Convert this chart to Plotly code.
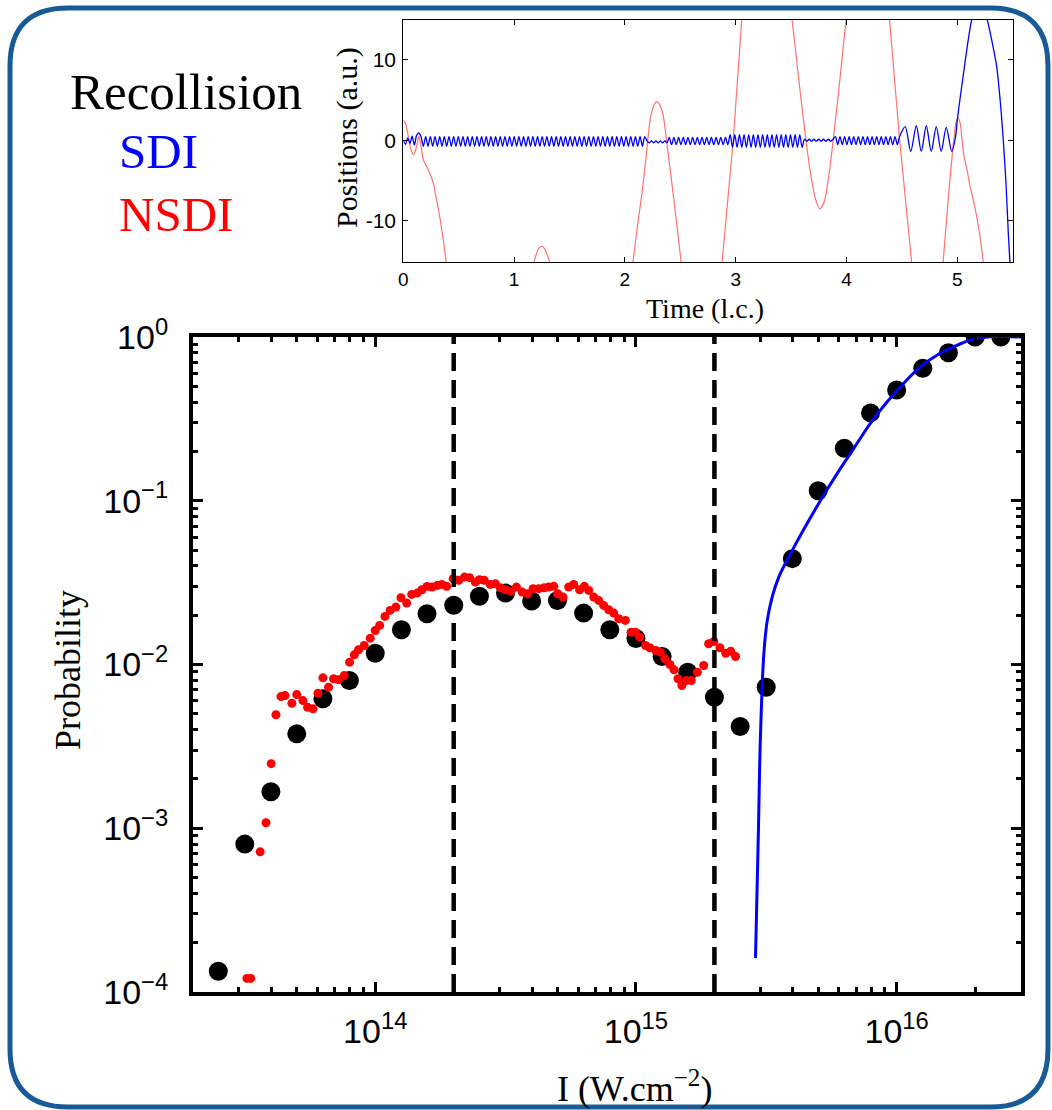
import plotly.graph_objects as go

W, H = 1052, 1110

# ---------------- main plot data ----------------
black_I = [2.5e13, 3.16e13, 3.98e13, 5.0e13, 6.3e13, 7.96e13, 1.0e14, 1.26e14, 1.58e14, 2.0e14,
           2.51e14, 3.16e14, 3.98e14, 5.0e14, 6.3e14, 7.94e14, 1.0e15, 1.26e15, 1.58e15, 2.0e15,
           2.51e15, 3.16e15, 3.98e15, 5.0e15, 6.3e15, 7.94e15, 1.0e16, 1.26e16, 1.58e16, 2.0e16, 2.51e16]
black_P = [1.34e-4, 8.0e-4, 1.67e-3, 3.77e-3, 6.17e-3, 7.98e-3, 1.17e-2, 1.63e-2, 2.04e-2, 2.30e-2,
           2.61e-2, 2.73e-2, 2.44e-2, 2.46e-2, 2.06e-2, 1.63e-2, 1.44e-2, 1.12e-2, 8.97e-3, 6.31e-3,
           4.18e-3, 7.27e-3, 4.43e-2, 1.15e-1, 2.09e-1, 3.44e-1, 4.74e-1, 6.44e-1, 8.02e-1, 1.0, 1.0]

red_I = [3.22e13, 3.33e13, 3.62e13, 3.81e13, 3.99e13, 4.16e13, 4.35e13, 4.51e13, 4.79e13, 5.00e13,
         5.28e13, 5.50e13, 5.77e13, 6.03e13, 6.30e13, 6.62e13, 6.92e13, 7.23e13, 7.60e13, 7.97e13,
         8.31e13, 8.63e13, 9.07e13, 9.57e13, 1.00e14, 1.04e14, 1.09e14, 1.14e14, 1.20e14, 1.255e14,
         1.32e14, 1.38e14, 1.45e14, 1.51e14, 1.58e14, 1.65e14, 1.73e14, 1.80e14, 1.88e14, 1.99e14,
         2.09e14, 2.20e14, 2.30e14, 2.42e14, 2.51e14, 2.62e14, 2.76e14, 2.89e14, 3.02e14, 3.16e14,
         3.32e14, 3.48e14, 3.66e14, 3.84e14, 4.03e14, 4.24e14, 4.45e14, 4.63e14, 4.84e14, 5.01e14,
         5.25e14, 5.52e14, 5.77e14, 6.08e14, 6.34e14, 6.59e14, 6.89e14, 7.20e14, 7.52e14, 7.86e14,
         8.22e14, 8.59e14, 9.11e14, 9.58e14, 9.96e14, 1.034e15, 1.088e15, 1.13e15, 1.19e15, 1.24e15,
         1.29e15, 1.35e15, 1.40e15, 1.45e15, 1.50e15, 1.56e15, 1.63e15, 1.72e15, 1.82e15, 1.90e15,
         1.99e15, 2.10e15, 2.21e15, 2.31e15, 2.41e15]
red_P = [1.21e-4, 1.21e-4, 7.18e-4, 1.08e-3, 2.48e-3, 4.93e-3, 6.37e-3, 6.46e-3, 5.80e-3, 6.55e-3,
         6.02e-3, 5.48e-3, 5.36e-3, 6.68e-3, 8.29e-3, 7.26e-3, 8.18e-3, 8.06e-3, 8.56e-3, 1.033e-2,
         1.146e-2, 1.230e-2, 1.307e-2, 1.448e-2, 1.614e-2, 1.732e-2, 1.966e-2, 2.140e-2, 2.241e-2, 2.558e-2,
         2.371e-2, 2.680e-2, 2.730e-2, 2.862e-2, 2.999e-2, 2.970e-2, 3.042e-2, 3.085e-2, 3.000e-2, 3.343e-2,
         3.264e-2, 3.419e-2, 3.390e-2, 3.187e-2, 3.296e-2, 3.264e-2, 3.085e-2, 3.115e-2, 2.944e-2, 2.862e-2,
         2.806e-2, 2.970e-2, 2.767e-2, 2.706e-2, 2.904e-2, 2.904e-2, 2.944e-2, 2.970e-2, 3.000e-2, 2.706e-2,
         2.580e-2, 2.970e-2, 3.085e-2, 2.862e-2, 3.000e-2, 2.835e-2, 2.580e-2, 2.463e-2, 2.296e-2, 2.161e-2,
         2.060e-2, 1.904e-2, 1.858e-2, 1.576e-2, 1.576e-2, 1.469e-2, 1.307e-2, 1.265e-2, 1.218e-2, 1.189e-2,
         1.083e-2, 1.000e-2, 9.28e-3, 8.18e-3, 7.44e-3, 7.98e-3, 7.98e-3, 8.97e-3, 9.86e-3, 1.338e-2,
         1.382e-2, 1.265e-2, 1.172e-2, 1.206e-2, 1.119e-2]

sdi_I = [2.875e15, 2.95e15, 3.0e15, 3.095e15, 3.19e15, 3.33e15, 3.53e15, 3.98e15, 4.54e15, 5.11e15,
         5.92e15, 6.85e15, 7.94e15, 9.2e15, 1.067e16, 1.236e16, 1.432e16, 1.66e16, 1.92e16, 2.23e16, 3.0e16]
sdi_P = [1.61e-4, 9.7e-4, 3.43e-3, 1.17e-2, 1.86e-2, 2.58e-2, 3.42e-2, 4.98e-2, 7.28e-2, 1.007e-1,
         1.47e-1, 2.09e-1, 2.98e-1, 4.02e-1, 5.24e-1, 6.59e-1, 7.76e-1, 8.73e-1, 9.59e-1, 1.0, 1.0]

threshold_I = [2e14, 2e15]

x_tick_vals = [1e14, 1e15, 1e16]
x_tick_text = ["10<sup>14</sup>", "10<sup>15</sup>", "10<sup>16</sup>"]
y_tick_vals = [1e-4, 1e-3, 1e-2, 1e-1, 1]
y_tick_text = ["10<sup>\u22124</sup>", "10<sup>\u22123</sup>", "10<sup>\u22122</sup>",
               "10<sup>\u22121</sup>", "10<sup>0</sup>"]

# ---------------- inset data ----------------
nsdi_t = [0.0, 0.02, 0.045, 0.07, 0.09, 0.11, 0.13, 0.142, 0.155, 0.18, 0.226, 0.27, 0.30, 0.325, 0.347, 0.37, 0.39, None,
          1.175, 1.2, 1.225, 1.249, 1.275, 1.30, 1.327, None,
          2.07, 2.11, 2.15, 2.19, 2.227, 2.26, 2.287, 2.315, 2.347, 2.38, 2.42, 2.46, 2.51, None,
          2.875, 2.978, 3.057, None,
          3.505, 3.57, 3.634, 3.68, 3.72, 3.76, 3.80, 3.84, 3.88, 3.94, 4.0, None,
          4.385, 4.48, 4.59, None,
          4.87, 4.92, 4.96, 4.99, 5.01, 5.03, 5.055, 5.085, 5.115, 5.145, 5.175, 5.205, 5.235]
nsdi_x = [2.5, 2.1, 0.5, -1.2, -1.8, -1.3, -0.1, 0.5, -0.3, -2.4, -3.7, -5.3, -7.4, -9.2, -11.1, -13.3, -15.5, None,
          -15.5, -14.2, -13.4, -13.2, -13.5, -14.3, -15.5, None,
          -15.5, -11.0, -7.0, -2.3, 2.5, 4.3, 4.8, 4.4, 3.0, -0.5, -4.9, -9.5, -15.5, None,
          -15.5, 0.0, 15.5, None,
          15.5, 7.5, 0.0, -4.5, -7.3, -8.55, -7.6, -4.5, 0.0, 7.5, 15.5, None,
          15.5, 0.0, -15.5, None,
          -15.5, -7.0, -1.0, 2.3, 2.75, 1.8, -1.6, -3.5, -5.7, -7.5, -9.5, -12.0, -15.2]

# bound-electron (SDI) trajectory: start, fast oscillation segments, slow wiggles, escape
sdi_head_t = [0.0, 0.02, 0.04, 0.06, 0.08, 0.10, 0.12, 0.14]
sdi_head_x = [0.0, -0.5, 0.3, -0.4, 0.5, -0.6, 0.6, 0.9]
seg_start = [0.16, 2.20, 2.40, 2.95, 3.62, 3.90]
seg_end = [2.20, 2.40, 2.95, 3.62, 3.90, 4.50]
seg_amp = [0.6, 0.12, 0.45, 0.8, 0.12, 0.5]
seg_mid = [-0.15, -0.2, -0.1, -0.1, 0.0, -0.05]
seg_period = 0.042
sdi_tail_t = [4.53, 4.58, 4.63, 4.675, 4.72, 4.765, 4.81, 4.855, 4.90, 4.95, 4.985, 5.0, 5.025,
              5.055, 5.085, 5.13, 5.2, 5.27, 5.31, 5.355, 5.39, 5.415, 5.44, 5.46, 5.475]
sdi_tail_x = [1.7, -1.4, 1.8, -1.4, 1.8, -1.4, 1.7, -1.4, 1.6, -1.4, 0.5, 2.5, 5.2,
              8.2, 11.2, 15.0, 18.0, 15.0, 12.5, 9.2, 4.5, 0.0, -5.5, -11.5, -15.2]

traj_t = list(sdi_head_t)
traj_x = list(sdi_head_x)
for t0, t1, a, m in zip(seg_start, seg_end, seg_amp, seg_mid):
    n = int(round((t1 - t0) / (seg_period / 2)))
    for k in range(n):
        traj_t.append(t0 + k * (t1 - t0) / n)
        traj_x.append(m + (a if k % 2 == 0 else -a))
traj_t += sdi_tail_t
traj_x += sdi_tail_x

inset_x_ticks = [0, 1, 2, 3, 4, 5]
inset_y_ticks = [-10, 0, 10]
inset_y_text = ["-10", "0", "10"]

# ---------------- layout helpers ----------------
def px(x):
    return x / W

def py(y):
    return 1 - y / H

fig = go.Figure()

fig.add_trace(go.Scatter(x=black_I, y=black_P, mode="markers",
                         marker=dict(color="black", size=19), xaxis="x", yaxis="y"))
fig.add_trace(go.Scatter(x=red_I, y=red_P, mode="markers",
                         marker=dict(color="#ff0000", size=9), xaxis="x", yaxis="y"))
for xv in threshold_I:
    fig.add_trace(go.Scatter(x=[xv, xv], y=[1e-4, 1], mode="lines",
                             line=dict(color="black", width=4.5, dash="18px,9px"),
                             xaxis="x", yaxis="y"))
fig.add_trace(go.Scatter(x=sdi_I, y=sdi_P, mode="lines",
                         line=dict(color="#0000ff", width=3, shape="spline"), xaxis="x", yaxis="y"))

fig.add_trace(go.Scatter(x=nsdi_t, y=nsdi_x, mode="lines", connectgaps=False,
                         line=dict(color="#ff7272", width=1.2, shape="spline", smoothing=0.6),
                         xaxis="x2", yaxis="y2"))
fig.add_trace(go.Scatter(x=traj_t, y=traj_x, mode="lines",
                         line=dict(color="#0000ff", width=1.3, shape="spline", smoothing=0.8),
                         xaxis="x2", yaxis="y2"))

main_minor_x = [m * 10 ** e for e in (13, 14, 15, 16) for m in range(2, 10) if 2e13 <= m * 10 ** e <= 3e16]
main_minor_y = [m * 10 ** e for e in (-4, -3, -2, -1) for m in range(2, 10)]

axis_common = dict(showgrid=False, zeroline=False, showline=True, linecolor="black",
                   mirror="ticks", ticks="inside", tickcolor="black", automargin=False)

fig.update_layout(
    width=W, height=H, margin=dict(l=0, r=0, t=0, b=0, pad=0, autoexpand=False),
    paper_bgcolor="white", plot_bgcolor="white", showlegend=False,
    xaxis=dict(type="log", domain=[px(193), px(1021)], range=[13.301, 16.477], anchor="y",
               tickmode="array", tickvals=x_tick_vals, ticktext=x_tick_text,
               linewidth=4, ticklen=10, tickwidth=3, ticklabelstandoff=6,
               tickfont=dict(family="Liberation Sans", size=34, color="black"),
               minor=dict(ticks="inside", ticklen=5, tickwidth=2.5, tickcolor="black",
                          tickmode="array", tickvals=main_minor_x),
               **axis_common),
    yaxis=dict(type="log", domain=[py(992), py(337)], range=[-4, 0], anchor="x",
               tickmode="array", tickvals=y_tick_vals, ticktext=y_tick_text,
               linewidth=4, ticklen=10, tickwidth=3, ticklabelstandoff=14,
               tickfont=dict(family="Liberation Sans", size=34, color="black"),
               minor=dict(ticks="inside", ticklen=5, tickwidth=2.5, tickcolor="black",
                          tickmode="array", tickvals=main_minor_y),
               **axis_common),
    xaxis2=dict(domain=[px(403.3), px(1012.7)], range=[0, 5.5], anchor="y2",
                tickmode="array", tickvals=inset_x_ticks,
                linewidth=1.2, ticklen=5, tickwidth=1, ticklabelstandoff=0,
                tickfont=dict(family="Liberation Sans", size=19, color="black"),
                **axis_common),
    yaxis2=dict(domain=[py(262.3), py(20)], range=[-15.2, 14.97], anchor="x2",
                tickmode="array", tickvals=inset_y_ticks, ticktext=inset_y_text,
                linewidth=1.2, ticklen=5, tickwidth=1, ticklabelstandoff=2,
                tickfont=dict(family="Liberation Sans", size=21, color="black"),
                **axis_common),
)

serif = "Liberation Serif"
annotations = [
    dict(text="Recollision", x=px(68), y=py(92), xanchor="left", yanchor="middle",
         font=dict(family=serif, size=51, color="black")),
    dict(text="SDI", x=px(117), y=py(152), xanchor="left", yanchor="middle",
         font=dict(family=serif, size=49, color="#0000ff")),
    dict(text="NSDI", x=px(117), y=py(214), xanchor="left", yanchor="middle",
         font=dict(family=serif, size=49, color="#ff0000")),
    dict(text="Probability", x=px(68), y=py(670), xanchor="center", yanchor="middle", textangle=-90,
         font=dict(family=serif, size=36, color="black")),
    dict(text="I (W.cm<sup>\u22122</sup>)", x=px(634), y=py(1086), xanchor="center", yanchor="middle",
         font=dict(family=serif, size=36, color="black")),
    dict(text="Positions (a.u.)", x=px(347), y=py(138), xanchor="center", yanchor="middle", textangle=-90,
         font=dict(family=serif, size=30, color="black")),
    dict(text="Time (l.c.)", x=px(705), y=py(308), xanchor="center", yanchor="middle",
         font=dict(family=serif, size=28, color="black")),
]
for a in annotations:
    a.update(xref="paper", yref="paper", showarrow=False)
fig.update_layout(annotations=annotations)

# rounded frame around the whole panel
L, R, T, B, r = 10, 1048, 8, 1107, 58
pts = [("M", (L + r, T)), ("L", (R - r, T)), ("Q", (R, T), (R, T + r)), ("L", (R, B - r)),
       ("Q", (R, B), (R - r, B)), ("L", (L + r, B)), ("Q", (L, B), (L, B - r)), ("L", (L, T + r)),
       ("Q", (L, T), (L + r, T))]
path = ""
for p in pts:
    cmd = p[0]
    coords = " ".join(f"{px(c[0]):.5f},{py(c[1]):.5f}" for c in p[1:])
    path += f"{cmd} {coords} "
path += "Z"
fig.add_shape(type="path", path=path, xref="paper", yref="paper",
              line=dict(color="#185a97", width=5), layer="above")

fig.write_html("out.html")
